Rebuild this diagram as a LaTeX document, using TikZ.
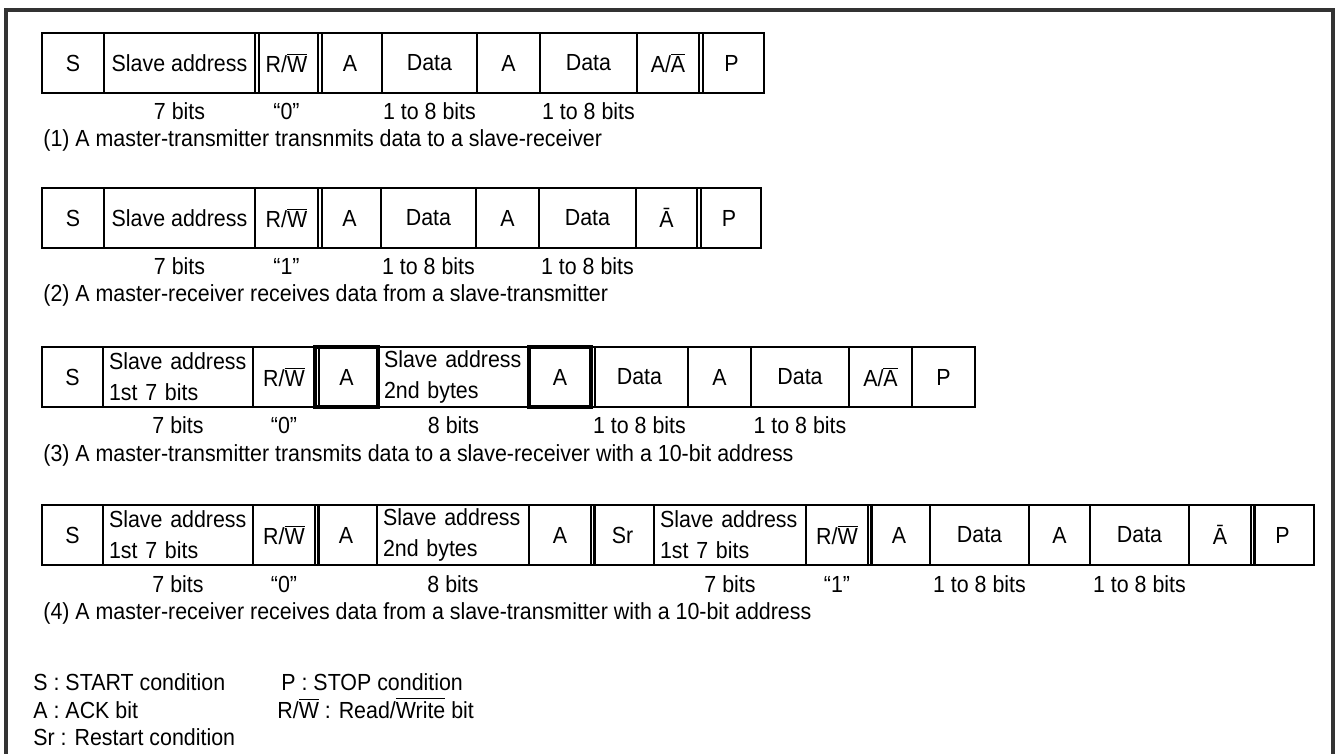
\documentclass[tikz,border=0pt]{standalone}
\usepackage{fontspec}
\setmainfont[FakeStretch=0.918]{Liberation Sans}
\newcommand\ovl[1]{\ensuremath{\overline{\mbox{#1}}}}
\newcommand\cellat[6][]{\node[cell,minimum width={(#4-#3)*0.5pt},#1] (#2) at (#3,#5) {#6};}
\definecolor{frm}{HTML}{333333}
\begin{document}
\begin{tikzpicture}[x=0.5pt,y=-0.5pt,
  font=\fontsize{11.65pt}{15.5pt}\selectfont,
  cell/.style={draw, line width=1pt, anchor=north west, inner xsep=3pt, inner ysep=0pt, minimum height=30pt, outer sep=0pt},
  twoline/.style={align=left, text width=#1},
  boldbox/.style={line width=1.6pt},
  heavy/.style={line width=1.25pt},
  dbl/.style={line width=1pt},
  lbl/.style={anchor=base, inner sep=0pt},
  captxt/.style={anchor=base west, inner sep=0pt},
  frame/.style={line width=1.6pt, draw=frm}]
\useasboundingbox (0,0) rectangle (1340,754);
\clip (0,0) rectangle (1340,754);
\draw[frame] (6,780) -- (6,10) -- (1333,10) -- (1333,780);

% ---------- Row 1 ----------
\cellat{r1s}{42}{104}{33}{S}
\cellat{r1sa}{104}{255}{33}{Slave address}
\cellat{r1rw}{255}{318}{33}{R/\ovl{W}}
\cellat{r1a1}{318}{382}{33}{A}
\cellat{r1d1}{382}{477}{33}{Data}
\cellat{r1a2}{477}{540}{33}{A}
\cellat{r1d2}{540}{637}{33}{Data}
\cellat{r1aa}{637}{699}{33}{A/\ovl{A}}
\cellat{r1p}{699}{764}{33}{P}
\foreach \n in {r1rw,r1a1,r1p}
  \draw[dbl] ([xshift=1.75pt]\n.north west) -- ([xshift=1.75pt]\n.south west);
\node[lbl] (l1a) at ([yshift=-13.5pt]r1sa.south) {7 bits};
\node[lbl] (l1b) at ([yshift=-13.5pt]r1rw.south) {“0”};
\node[lbl] (l1c) at ([yshift=-13.5pt]r1d1.south) {1 to 8 bits};
\node[lbl] (l1d) at ([yshift=-13.5pt]r1d2.south) {1 to 8 bits};
\node[captxt] (c1) at (43,147) {(1) A master-transmitter transnmits data to a slave-receiver};

% ---------- Row 2 ----------
\cellat{r2s}{42}{104}{188}{S}
\cellat{r2sa}{104}{255}{188}{Slave address}
\cellat{r2rw}{255}{318}{188}{R/\ovl{W}}
\cellat{r2a1}{318}{381}{188}{A}
\cellat{r2d1}{381}{476}{188}{Data}
\cellat{r2a2}{476}{539}{188}{A}
\cellat{r2d2}{539}{636}{188}{Data}
\cellat{r2aa}{636}{697}{188}{Ā}
\cellat{r2p}{697}{761}{188}{P}
\foreach \n in {r2a1,r2p}
  \draw[dbl] ([xshift=1.75pt]\n.north west) -- ([xshift=1.75pt]\n.south west);
\node[lbl] (l2a) at ([yshift=-13.5pt]r2sa.south) {7 bits};
\node[lbl] (l2b) at ([yshift=-13.5pt]r2rw.south) {“1”};
\node[lbl] (l2c) at ([yshift=-13.5pt]r2d1.south) {1 to 8 bits};
\node[lbl] (l2d) at ([yshift=-13.5pt]r2d2.south) {1 to 8 bits};
\node[captxt] (c2) at (43,302) {(2) A master-receiver receives data from a slave-transmitter};

% ---------- Row 3 ----------
\cellat{r3s}{42}{103}{347}{S}
\cellat[twoline=69pt]{r3sa}{103}{253}{347}{Slave address\\1st 7 bits}
\cellat{r3rw}{253}{315}{347}{R/\ovl{W}}
\cellat[boldbox]{r3a1}{315}{378}{347}{A}
\cellat[twoline=69.5pt]{r3sb}{378}{529}{347}{Slave address\\2nd bytes}
\cellat[boldbox]{r3a2}{529}{591}{347}{A}
\cellat{r3d1}{591}{688}{347}{Data}
\cellat{r3a3}{688}{751}{347}{A}
\cellat{r3d2}{751}{849}{347}{Data}
\cellat{r3aa}{849}{912}{347}{A/\ovl{A}}
\cellat{r3p}{912}{975}{347}{P}
\foreach \n in {r3a1,r3d1}
  \draw[dbl] ([xshift=1.75pt]\n.north west) -- ([xshift=1.75pt]\n.south west);
\node[lbl] (l3a) at ([yshift=-13.5pt]r3sa.south) {7 bits};
\node[lbl] (l3b) at ([yshift=-13.5pt]r3rw.south) {“0”};
\node[lbl] (l3c) at ([yshift=-13.5pt]r3sb.south) {8 bits};
\node[lbl] (l3d) at ([yshift=-13.5pt]r3d1.south) {1 to 8 bits};
\node[lbl] (l3e) at ([yshift=-13.5pt]r3d2.south) {1 to 8 bits};
\node[captxt] (c3) at (43,461) {(3) A master-transmitter transmits data to a slave-receiver with a 10-bit address};

% ---------- Row 4 ----------
\cellat[heavy]{r4s}{42}{103}{505}{S}
\cellat[heavy,twoline=69pt]{r4sa}{103}{253}{505}{Slave address\\1st 7 bits}
\cellat[heavy]{r4rw}{253}{315}{505}{R/\ovl{W}}
\cellat[heavy]{r4a1}{315}{377}{505}{A}
\cellat[heavy,twoline=70pt]{r4sb}{377}{529}{505}{Slave address\\2nd bytes}
\cellat[heavy]{r4a2}{529}{591}{505}{A}
\cellat[heavy]{r4sr}{591}{654}{505}{Sr}
\cellat[heavy,twoline=70pt]{r4sc}{654}{806}{505}{Slave address\\1st 7 bits}
\cellat[heavy]{r4rw2}{806}{868}{505}{R/\ovl{W}}
\cellat[heavy]{r4a3}{868}{930}{505}{A}
\cellat[heavy]{r4d1}{930}{1029}{505}{Data}
\cellat[heavy]{r4a4}{1029}{1090}{505}{A}
\cellat[heavy]{r4d2}{1090}{1189}{505}{Data}
\cellat[heavy]{r4an}{1189}{1251}{505}{Ā}
\cellat[heavy]{r4p}{1251}{1314}{505}{P}
\foreach \n in {r4a1,r4sr,r4a3,r4p}
  \draw[dbl,heavy] ([xshift=1.75pt]\n.north west) -- ([xshift=1.75pt]\n.south west);
\node[lbl] (l4a) at ([yshift=-13.5pt]r4sa.south) {7 bits};
\node[lbl] (l4b) at ([yshift=-13.5pt]r4rw.south) {“0”};
\node[lbl] (l4c) at ([yshift=-13.5pt]r4sb.south) {8 bits};
\node[lbl] (l4d) at ([yshift=-13.5pt]r4sc.south) {7 bits};
\node[lbl] (l4e) at ([yshift=-13.5pt]r4rw2.south) {“1”};
\node[lbl] (l4f) at ([yshift=-13.5pt]r4d1.south) {1 to 8 bits};
\node[lbl] (l4g) at ([yshift=-13.5pt]r4d2.south) {1 to 8 bits};
\node[captxt] (c4) at (43,619) {(4) A master-receiver receives data from a slave-transmitter with a 10-bit address};

% ---------- Legend ----------
\node[captxt] (lgS) at (33,690) {S : START condition};
\node[captxt] (lgA) at (33,718) {A : ACK bit};
\node[captxt] (lgSr) at (33,745) {Sr : Restart condition};
\node[captxt] (lgP) at (281,690) {P : STOP condition};
\node[captxt] (lgRW) at (277,718) {R/\ovl{W} : Read/\ovl{Write} bit};
\end{tikzpicture}
\end{document}
